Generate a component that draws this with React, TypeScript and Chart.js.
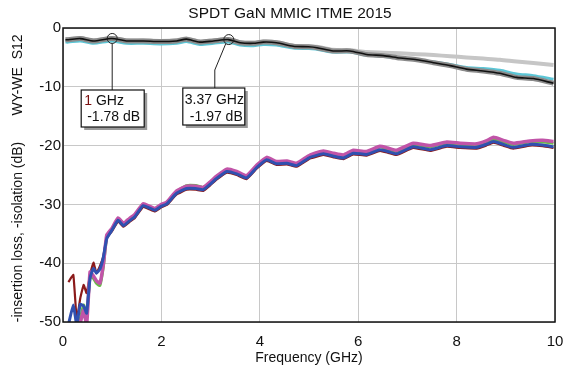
import React, { useEffect, useRef } from "react";
import { Chart, registerables } from "chart.js";

Chart.register(...registerables);

const TITLE = "SPDT GaN MMIC ITME 2015";
const X_TITLE = "Frequency (GHz)";
const Y_TITLE = "-insertion loss, -isolation (dB)";
const Y_TITLE2 = "WY-WE  S12";

const xTicks = [0, 2, 4, 6, 8, 10];
const yTicks = [-50, -40, -30, -20, -10, 0];

// insertion loss traces
const ilFreq = [0.05, 0.11, 0.35, 0.62, 0.99, 1.29, 1.63, 1.97, 2.31, 2.51, 2.78, 3.06, 3.36, 3.6, 3.87, 4.07, 4.34, 4.68, 4.99, 5.16, 5.49, 5.83, 6.17, 6.51, 6.85, 7.19, 7.53, 7.87, 8.2, 8.54, 8.88, 9.22, 9.56, 9.97];
const ilBlack = [-2.0, -2.0, -1.8, -2.2, -1.78, -2.2, -2.2, -2.3, -2.2, -1.9, -2.4, -2.2, -1.97, -2.5, -2.6, -2.4, -2.5, -3.1, -3.2, -3.35, -3.9, -3.9, -4.5, -4.7, -5.1, -5.4, -5.9, -6.4, -7.0, -7.3, -7.7, -8.4, -8.6, -9.4];
const ilLightGrey = [-1.9, -1.9, -1.7, -2.1, -1.7, -2.1, -2.1, -2.2, -2.1, -1.8, -2.3, -2.1, -1.9, -2.4, -2.5, -2.3, -2.4, -3.0, -3.1, -3.2, -3.7, -3.8, -4.1, -4.2, -4.3, -4.45, -4.6, -4.8, -5.0, -5.2, -5.4, -5.7, -5.95, -6.3];
const ilCyan = [-2.4, -2.4, -2.2, -2.6, -2.2, -2.6, -2.6, -2.7, -2.6, -2.3, -2.8, -2.6, -2.4, -2.9, -3.0, -2.8, -2.9, -3.4, -3.5, -3.6, -4.1, -4.1, -4.6, -4.8, -5.1, -5.4, -5.8, -6.2, -6.7, -6.9, -7.2, -7.8, -8.1, -8.7];

// isolation traces
const isoFreq = [0.11, 0.21, 0.28, 0.35, 0.42, 0.48, 0.55, 0.62, 0.68, 0.75, 0.82, 0.89, 1.0, 1.12, 1.23, 1.35, 1.46, 1.63, 1.75, 1.87, 2.0, 2.11, 2.31, 2.51, 2.7, 2.85, 3.0, 3.12, 3.33, 3.53, 3.73, 3.94, 4.14, 4.34, 4.55, 4.75, 5.02, 5.29, 5.5, 5.7, 5.9, 6.17, 6.44, 6.6, 6.78, 7.12, 7.46, 7.8, 8.07, 8.41, 8.6, 8.75, 8.95, 9.15, 9.49, 9.75, 9.97];
const isoBlue = [-50.5, -47.1, -50.5, -47.0, -47.3, -48.5, -42.5, -40.9, -41.7, -41.0, -39.0, -35.8, -34.3, -32.7, -33.6, -32.8, -32.1, -30.2, -30.6, -31.0, -30.3, -29.9, -28.1, -27.3, -27.3, -27.5, -26.5, -25.6, -24.4, -24.8, -25.5, -23.7, -22.4, -23.1, -23.0, -23.4, -22.0, -21.4, -21.8, -22.1, -21.3, -21.5, -20.7, -21.0, -21.4, -20.2, -20.7, -20.0, -20.2, -20.3, -19.8, -19.3, -19.8, -20.3, -19.8, -19.9, -20.2];
const isoMagenta = [-52, -52, -52, -50.2, -48.0, -50.5, -41.5, -42.2, -43.0, -43.4, -40.2, -35.2, -34.0, -32.3, -33.2, -32.4, -31.7, -29.9, -30.3, -30.7, -30.0, -29.6, -27.7, -26.9, -26.9, -27.1, -26.1, -25.2, -24.0, -24.4, -25.1, -23.3, -22.0, -22.7, -22.6, -23.0, -21.6, -20.9, -21.3, -21.6, -20.8, -21.0, -20.1, -20.4, -20.8, -19.6, -20.0, -19.4, -19.6, -19.7, -19.2, -18.6, -19.1, -19.6, -19.2, -19.1, -19.3];
const isoGreen = [-52, -52, -52, -49.5, -47.1, -49.0, -42.3, -42.6, -43.4, -43.8, -40.6, -35.6, -34.2, -32.4, -33.3, -32.5, -31.8, -30.0, -30.4, -30.8, -30.1, -29.7, -27.8, -26.8, -26.8, -27.1, -26.2, -25.3, -24.1, -24.5, -25.2, -23.4, -22.1, -22.8, -22.7, -23.1, -21.7, -21.0, -21.4, -21.7, -20.9, -21.1, -20.2, -20.6, -21.0, -19.8, -20.2, -19.6, -19.8, -19.9, -19.4, -18.9, -19.4, -19.8, -19.4, -19.4, -19.6];
const isoDarkRed = [-43.2, -42.0, -49.7, -46.0, -43.7, -45.1, -42.0, -39.9, -41.7, -40.5, -38.8, -35.7, -34.5, -32.9, -33.8, -33.0, -32.3, -30.4, -30.8, -31.2, -30.5, -30.1, -28.3, -27.5, -27.5, -27.7, -26.7, -25.8, -24.6, -25.0, -25.7, -23.9, -22.6, -23.3, -23.2, -23.6, -22.2, -21.6, -22.0, -22.3, -21.5, -21.7, -20.9, -21.2, -21.6, -20.4, -20.9, -20.2, -20.4, -20.5, -20.0, -19.5, -20.0, -20.5, -20.0, -20.1, -20.4];

// markers
const markerFreq = [1, 3.37];
const markerDb = [-1.78, -1.97];
const markerFreqLabel = ["1 GHz", "3.37 GHz"];
const markerDbLabel = ["-1.78 dB", "-1.97 dB"];

const FONT = "'Liberation Sans', Arial, sans-serif";

const pts = (xs: number[], ys: number[]) => xs.map((x, i) => ({ x, y: ys[i] }));

const line = (data: any[], color: string, width: number, tension = 0.25) => ({
  data,
  borderColor: color,
  backgroundColor: color,
  borderWidth: width,
  pointRadius: 0,
  tension,
  fill: false,
});

const decorPlugin = {
  id: "decor",
  afterDraw(chart: any) {
    const ctx = chart.ctx;
    const ca = chart.chartArea;
    const xs = chart.scales.x;
    ctx.save();
    // frame
    ctx.strokeStyle = "#111";
    ctx.lineWidth = 1.5;
    ctx.strokeRect(ca.left, ca.top, ca.right - ca.left, ca.bottom - ca.top);

    // title
    ctx.fillStyle = "#111";
    ctx.font = `15.5px ${FONT}`;
    ctx.textAlign = "center";
    ctx.textBaseline = "middle";
    ctx.fillText(TITLE, 290, 14);

    // x title
    ctx.font = `14px ${FONT}`;
    ctx.fillText(X_TITLE, (ca.left + ca.right) / 2, 358);

    // y titles
    ctx.save();
    ctx.translate(18, 232);
    ctx.rotate(-Math.PI / 2);
    ctx.fillText(Y_TITLE, 0, 0);
    ctx.restore();
    ctx.save();
    ctx.translate(18, 75);
    ctx.rotate(-Math.PI / 2);
    ctx.fillText(Y_TITLE2, 0, 0);
    ctx.restore();

    // marker callouts
    const ys = chart.scales.y;
    const p0x = xs.getPixelForValue(markerFreq[0]);
    const p0y = ys.getPixelForValue(markerDb[0]);
    const p1x = xs.getPixelForValue(markerFreq[1]);
    const p1y = ys.getPixelForValue(markerDb[1]);

    ctx.strokeStyle = "#222";
    ctx.lineWidth = 1;
    ctx.beginPath();
    ctx.moveTo(p0x, p0y + 5);
    ctx.lineTo(p0x, 90);
    ctx.stroke();
    ctx.beginPath();
    ctx.moveTo(p1x - 3, p1y + 4);
    ctx.lineTo(p1x - 14, 70);
    ctx.lineTo(p1x - 14, 88);
    ctx.stroke();

    const boxes = [
      { l: p0x - 31, t: 90, w: 63, h: 37 },
      { l: p1x - 46, t: 88, w: 62, h: 37 },
    ];
    boxes.forEach((b, i) => {
      ctx.fillStyle = "#9a9a9a";
      ctx.fillRect(b.l + 3, b.t + 3, b.w, b.h);
      ctx.fillStyle = "#fff";
      ctx.fillRect(b.l, b.t, b.w, b.h);
      ctx.strokeStyle = "#111";
      ctx.lineWidth = 1.2;
      ctx.strokeRect(b.l, b.t, b.w, b.h);
      ctx.font = `14px ${FONT}`;
      ctx.textAlign = "left";
      ctx.textBaseline = "middle";
      if (i === 0) {
        const parts = markerFreqLabel[0].split(" ");
        ctx.fillStyle = "#7a1010";
        ctx.fillText(parts[0], b.l + 3, b.t + 11);
        const w = ctx.measureText(parts[0] + " ").width;
        ctx.fillStyle = "#111";
        ctx.fillText(parts.slice(1).join(" "), b.l + 3 + w, b.t + 11);
        ctx.fillText(markerDbLabel[0], b.l + 6, b.t + 27);
      } else {
        ctx.fillStyle = "#111";
        ctx.fillText(markerFreqLabel[1], b.l + 2, b.t + 12);
        ctx.fillText(markerDbLabel[1], b.l + 7, b.t + 29);
      }
    });
    ctx.restore();
  },
};

export default function App() {
  const ref = useRef<HTMLCanvasElement | null>(null);
  useEffect(() => {
    document.body.style.margin = "0";
    const canvas = ref.current!;
    const chart = new Chart(canvas, {
      type: "line",
      data: {
        datasets: [
          {
            type: "scatter",
            data: pts(markerFreq, markerDb),
            pointRadius: 5,
            pointStyle: "circle",
            borderColor: "#222",
            backgroundColor: "rgba(0,0,0,0)",
            borderWidth: 1,
            showLine: false,
          } as any,
          line(pts(ilFreq, ilBlack), "#111111", 1.6),
          line(pts(ilFreq, ilBlack), "#8a8a8a", 5),
          line(pts(ilFreq, ilCyan), "#5cc6d6", 3),
          line(pts(ilFreq, ilLightGrey), "#c6c6c6", 4),
          line(pts(isoFreq, isoBlue), "#3050b0", 3, 0.15),
          line(pts(isoFreq, isoMagenta), "#c154a8", 3.5, 0.15),
          line(pts(isoFreq, isoGreen), "#6ab84a", 3, 0.15),
          line(pts(isoFreq, isoDarkRed), "#8b1a1a", 2.2, 0.1),
        ],
      },
      options: {
        responsive: false,
        animation: false,
        layout: { padding: { left: 0, right: 12, top: 28, bottom: 0 } },
        plugins: { legend: { display: false }, tooltip: { enabled: false }, title: { display: false } },
        scales: {
          x: {
            type: "linear",
            min: 0,
            max: 10,
            afterBuildTicks: (s: any) => {
              s.ticks = xTicks.map((v) => ({ value: v }));
            },
            afterFit: (s: any) => {
              s.height = 53;
              s.paddingLeft = 0;
              s.paddingRight = 0;
            },
            ticks: { font: { family: FONT, size: 15 }, color: "#111", padding: 11, maxRotation: 0 },
            grid: { color: "#c8c8c8", lineWidth: 1, drawTicks: false },
            border: { display: false },
          },
          y: {
            type: "linear",
            min: -50,
            max: 0,
            afterBuildTicks: (s: any) => {
              s.ticks = yTicks.map((v) => ({ value: v }));
            },
            afterFit: (s: any) => {
              s.width = 63;
              s.paddingTop = 0;
              s.paddingBottom = 0;
            },
            ticks: { font: { family: FONT, size: 15 }, color: "#111", padding: 2 },
            grid: { color: "#c8c8c8", lineWidth: 1, drawTicks: false },
            border: { display: false },
          },
        },
      },
      plugins: [decorPlugin],
    });
    return () => chart.destroy();
  }, []);
  return (
    <div style={{ width: 567, height: 375, background: "#fff" }}>
      <canvas ref={ref} width={567} height={375} style={{ display: "block" }} />
    </div>
  );
}
